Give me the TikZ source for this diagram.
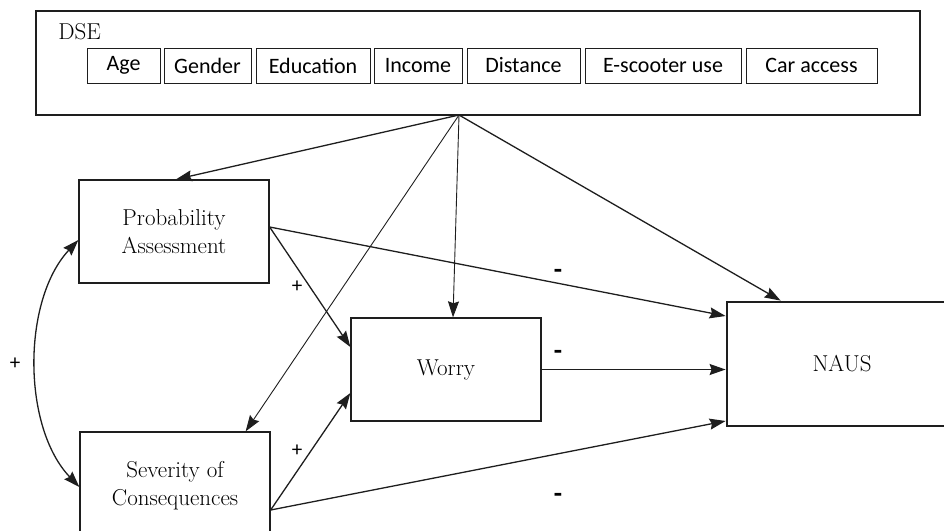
\documentclass[tikz,border=0pt]{standalone}
\usepackage{fontspec}
\newfontfamily\sansf{Carlito}
\usetikzlibrary{arrows.meta,calc}
\definecolor{ink}{HTML}{1E1E1E}
\tikzset{
  serifbox/.style={draw=ink,line width=1.3pt,rectangle,inner sep=0pt,align=center,
    font=\fontsize{23}{28}\selectfont,text=black},
  varbox/.style={draw=ink,line width=1pt,rectangle,inner sep=0pt,minimum height=35pt,
    font=\sansf\fontsize{22}{24}\selectfont,text=black},
  conn/.style={draw=ink,line width=1.3pt,-{Stealth[length=16pt,width=11pt,inset=2pt]}},
  thinconn/.style={conn,line width=0.9pt},
  sign/.style={font=\sansf\fontsize{21}{21}\selectfont,text=black,inner sep=0pt},
  minus/.style={font=\sansf\bfseries\fontsize{27}{27}\selectfont,text=black,inner sep=0pt}
}
\begin{document}
\begin{tikzpicture}[x=1pt,y=-1pt]
\useasboundingbox (0,0) rectangle (944,530);
\clip (0,0) rectangle (944,530);
% DSE frame
\node[draw=ink,line width=1.3pt,rectangle,inner sep=0pt,minimum width=884pt,minimum height=104pt] (dse) at (478,63) {};
\node[font=\fontsize{23}{24}\selectfont,text=black,inner sep=0pt] (dselab) at (79.5,32) {DSE};
\node[varbox,minimum width=73pt] (age) at (123.5,65.5) {Age};
\node[varbox,minimum width=87pt] (gender) at (207.5,65.5) {Gender};
\node[varbox,minimum width=114pt] (edu) at (313,65.5) {Education};
\node[varbox,minimum width=88pt] (income) at (418,65.5) {Income};
\node[varbox,minimum width=113pt] (dist) at (523.5,65.5) {Distance};
\node[varbox,minimum width=156pt] (esc) at (663,65.5) {E-scooter use};
\node[varbox,minimum width=131pt] (car) at (811.5,65.5) {Car access};
\coordinate (src) at (459,115);
% main boxes
\node[serifbox,minimum width=190pt,minimum height=103pt] (prob) at (174,231.5) {Probability\\Assessment};
\node[serifbox,minimum width=190pt,minimum height=108pt] (sev) at (175,486) {Severity of\\Consequences};
\node[serifbox,minimum width=190pt,minimum height=103pt] (worry) at (446,369.5) {Worry};
\node[serifbox,line width=2.8pt,minimum width=230pt,minimum height=124pt] (naus) at (842,364) {NAUS};
% connectors from DSE
\draw[conn] (src) -- ([xshift=2pt]prob.north);
\draw[thinconn] (src) -- ([xshift=-25pt]sev.north east);
\draw[thinconn] (src) -- ([xshift=7pt]worry.north);
\draw[conn] (src) -- ([xshift=55pt]naus.north west);
% paths
\draw[conn] ([yshift=4.5pt]prob.east) -- ([yshift=22.5pt]worry.west);
\draw[conn] ([yshift=4.5pt]prob.east) -- ([yshift=48pt]naus.west);
\draw[conn] (worry.east) -- (worry.east -| naus.west);
\draw[conn] ([yshift=-24pt]sev.east) -- ([yshift=-23.5pt]worry.west);
\draw[conn] ([yshift=-24pt]sev.east) -- ([yshift=-57pt]naus.west);
% covariance
\draw[draw=ink,line width=1.3pt,{Stealth[length=16pt,width=11pt,inset=2pt]}-{Stealth[length=16pt,width=11pt,inset=2pt]}]
  ([yshift=-8.5pt]prob.west) .. controls (22,300) and (22,427) .. ([yshift=-1pt]sev.west);
% signs
\node[sign] (s1) at (297,287) {+};
\node[sign] (s2) at (297,451) {+};
\node[sign] (s3) at (15,364) {+};
\node[minus] (m1) at (558,274) {-};
\node[minus] (m2) at (558,355) {-};
\node[minus] (m3) at (558,498) {-};
\end{tikzpicture}
\end{document}
